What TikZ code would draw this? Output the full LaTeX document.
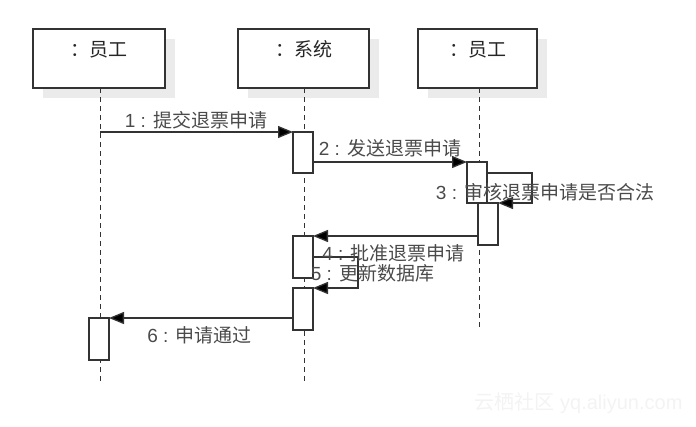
\documentclass[tikz,border=0pt]{standalone}
\usepackage{fontspec}
\setmainfont{Liberation Sans}
\newfontfamily\cjk{Noto Sans CJK SC}
\usetikzlibrary{arrows.meta,calc}
\definecolor{linec}{HTML}{333333}
\definecolor{txtc}{HTML}{4A4A4A}
\definecolor{shadowc}{HTML}{EBEBEB}
\definecolor{wmark}{HTML}{F3F3F3}
\tikzset{
  objbox/.style={draw=linec, line width=1.2pt, fill=white, minimum height=59pt, inner sep=0pt, outer sep=0pt},
  shadowbox/.style={fill=shadowc, draw=none, minimum height=59pt, inner sep=0pt},
  bar/.style={draw=linec, line width=1.2pt, fill=white, minimum width=20pt, inner sep=0pt, outer sep=0pt, anchor=north west},
  lifeline/.style={draw=linec, line width=1pt, dash pattern=on 5pt off 4pt},
  msg/.style={draw=linec, line width=1.3pt, -{Triangle[length=15pt,width=12pt,fill=black]}},
  msglabel/.style={text=txtc, font=\fontsize{19}{21}\selectfont, inner sep=0pt},
  headlabel/.style={text=black!85, font=\cjk\fontsize{19}{21}\selectfont}
}
\begin{document}
\begin{tikzpicture}[x=1pt,y=-1pt]
\useasboundingbox (0,0) rectangle (696,426);
% watermark
\node[text=wmark, font=\fontsize{20}{22}\selectfont, anchor=east] (wm) at (686,403) {{\cjk 云栖社区} yq.aliyun.com};
% shadows
\node[shadowbox, minimum width=132pt] (s1) at (109,68.5) {};
\node[shadowbox, minimum width=131pt] (s2) at (313.5,68.5) {};
\node[shadowbox, minimum width=119pt] (s3) at (487.5,68.5) {};
% object boxes
\node[objbox, minimum width=132pt, label={[headlabel, yshift=9pt]center:：员工}] (o1) at (99,58.5) {};
\node[objbox, minimum width=131pt, label={[headlabel, yshift=9pt]center:：系统}] (o2) at (303.5,58.5) {};
\node[objbox, minimum width=119pt, label={[headlabel, yshift=9pt]center:：员工}] (o3) at (477.5,58.5) {};
% lifeline ends
\coordinate (e1) at (100,381);
\coordinate (e2) at (304,381);
\coordinate (e3) at (479,330);
\draw[lifeline] (o1.south -| e1) -- (e1);
\draw[lifeline] (o2.south -| e2) -- (e2);
\draw[lifeline] (o3.south -| e3) -- (e3);
% activation bars
\node[bar, minimum height=41pt] (b1) at (293,132) {};
\node[bar, minimum height=41pt] (b2) at (467,162) {};
\node[bar, minimum height=42pt] (b3) at (478,203) {};
\node[bar, minimum height=42pt] (b4) at (293,236) {};
\node[bar, minimum height=42pt] (b5) at (293,288) {};
\node[bar, minimum height=42pt] (b6) at (89,318) {};
% messages
\draw[msg] (b1.north west -| e1) -- (b1.north west);
\draw[msg] (b1.east |- b2.north) -- (b2.north west);
\coordinate (l3) at ($(b2.north east)+(0,11)$);
\draw[msg] (l3) -- (l3 -| 532,0) -- (b3.north east -| 532,0) -- (b3.north east);
\draw[msg] (b3.west |- b4.north) -- (b4.north east);
\coordinate (l5) at (b4.east);
\draw[msg] (l5) -- (l5 -| 358,0) -- (b5.north east -| 358,0) -- (b5.north east);
\draw[msg] (b5.west |- b6.north) -- (b6.north east);
% labels
\node[msglabel] (t1) at (196,120) {1 : {\cjk 提交退票申请}};
\node[msglabel] (t2) at (390,148) {2 : {\cjk 发送退票申请}};
\node[msglabel] (t3) at (545,192) {3 : {\cjk 审核退票申请是否合法}};
\node[msglabel] (t4) at (393.5,253) {4 : {\cjk 批准退票申请}};
\node[msglabel] (t5) at (372.5,273) {5 : {\cjk 更新数据库}};
\node[msglabel] (t6) at (199.5,335) {6 : {\cjk 申请通过}};
\end{tikzpicture}
\end{document}
